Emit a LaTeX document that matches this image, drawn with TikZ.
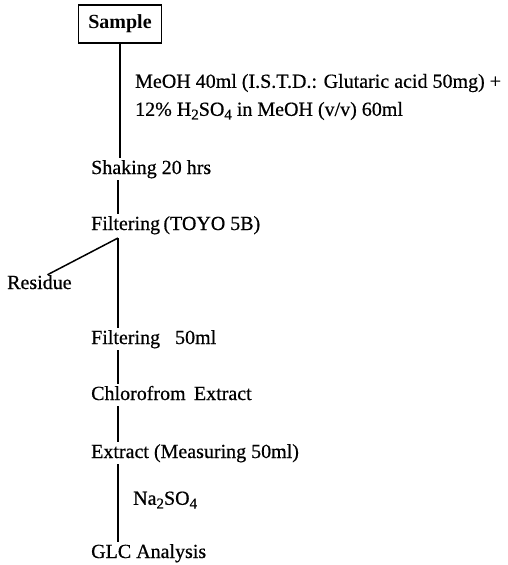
\documentclass[tikz,border=0pt]{standalone}
\usepackage{fontspec}
\setmainfont{Liberation Serif}
\newfontfamily\scanfont{Liberation Serif}[FakeBold=0.6]
\usetikzlibrary{calc}
\newcommand{\chemsub}[1]{\raisebox{-0.4ex}{\fontsize{15}{15}\selectfont #1}}

\begin{document}
\begin{tikzpicture}[
    x=1pt, y=-1pt,
    stage/.style={anchor=base west, inner xsep=0pt, inner ysep=2pt, text height=14pt, text depth=4pt, font=\fontsize{20}{24}\scanfont},
    note/.style={anchor=west, inner sep=0pt, align=left, font=\fontsize{20}{28}\scanfont},
    startbox/.style={draw, line width=1.5pt, minimum width=83pt, minimum height=38pt, font=\fontsize{20}{24}\selectfont\bfseries},
    link/.style={line width=1.5pt}
]
\useasboundingbox (0,0) rectangle (507,565);
\node[startbox] (sample) at (120,24) {Sample};
\node[note] (reag) at (135,97) {MeOH 40ml (I.S.T.D.: Glutaric acid 50mg) +\\12\% H\chemsub{2}SO\chemsub{4} in MeOH (v/v) 60ml};
\node[stage] (shake) at (91,174) {Shaking 20 hrs};
\node[stage] (filt) at (91,230) {Filtering\,(TOYO 5B)};
\node[stage] (resid) at (7,289) {Residue};
\node[stage] (filt2) at (91,344) {Filtering\enspace\ 50ml};
\node[stage] (chlor) at (91,400) {Chlorofrom\, Extract};
\node[stage] (extr) at (91,458) {Extract (Measuring 50ml)};
\node[note] (na) at (133,500) {Na\chemsub{2}SO\chemsub{4}};
\node[stage] (glc) at (91,558) {GLC Analysis};
\coordinate (split) at (118,238);

\draw[link] (sample.south) -- (sample.south |- shake.north);
\draw[link] (shake.south -| split) -- (filt.north -| split);
\draw[link] (split) -- ([xshift=8pt,yshift=-2pt]resid.north);
\draw[link] (split) -- (filt2.north -| split);
\draw[link] (filt2.south -| split) -- (chlor.north -| split);
\draw[link] (chlor.south -| split) -- (extr.north -| split);
\draw[link] (extr.south -| split) -- (glc.north -| split);
\end{tikzpicture}
\end{document}
